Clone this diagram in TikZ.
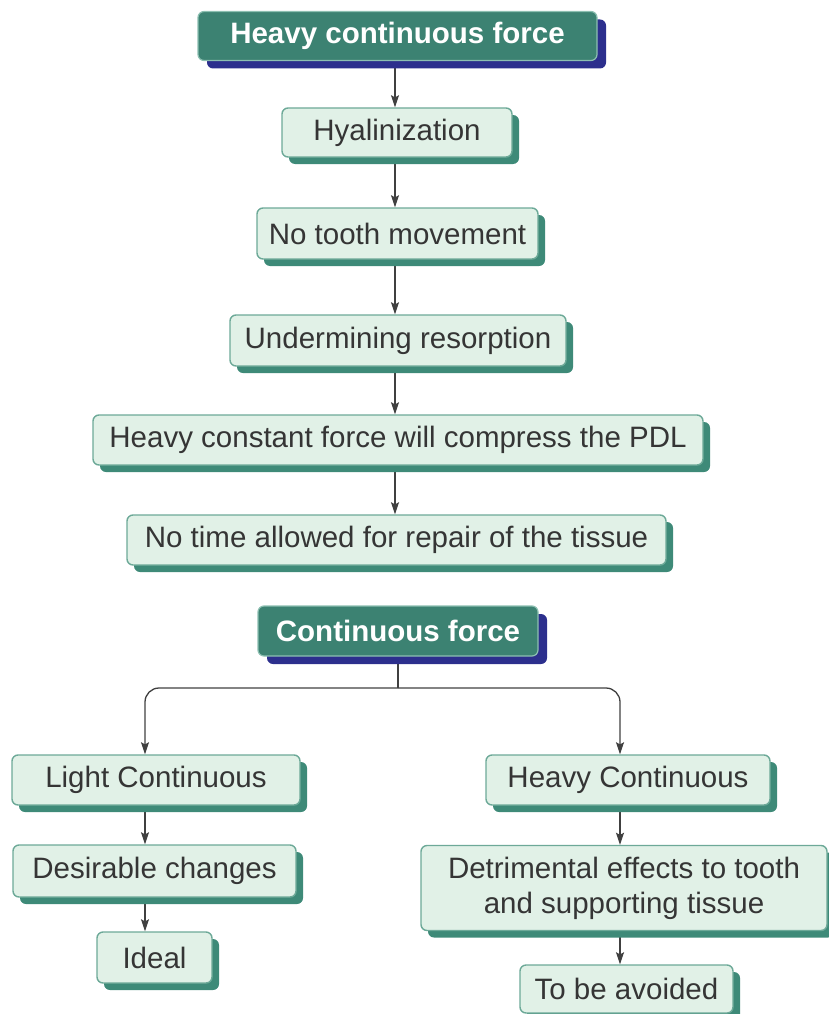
\documentclass[tikz,border=0pt]{standalone}
\usepackage{fontspec}
\setmainfont{Liberation Sans}
\usetikzlibrary{arrows.meta,shadows,backgrounds}
\definecolor{boxfill}{HTML}{E1F1E7}
\definecolor{boxline}{HTML}{6DA998}
\definecolor{boxshadow}{HTML}{3E8A78}
\definecolor{headfill}{HTML}{3C8272}
\definecolor{headline}{HTML}{8CBFB1}
\definecolor{headshadow}{HTML}{2C2F8D}
\definecolor{txt}{HTML}{353535}
\definecolor{arrowc}{HTML}{404040}
\begin{document}
\begin{tikzpicture}[x=1pt,y=1pt,
  lightbox/.style={draw=boxline, line width=1.4pt, fill=boxfill, rounded corners=6pt,
    text=txt, font=\fontsize{29.5}{35}\selectfont, inner sep=0pt, align=center,
    drop shadow={shadow xshift=7pt, shadow yshift=-7pt, fill=boxshadow, opacity=1}},
  headbox/.style={draw=headline, line width=1.2pt, fill=headfill, rounded corners=6pt,
    text=white, font=\fontsize{29.5}{35}\selectfont\bfseries, inner sep=0pt, align=center,
    drop shadow={shadow xshift=9pt, shadow yshift=-8pt, fill=headshadow, opacity=1}},
  arr/.style={draw=arrowc, line width=1.3pt, -{Stealth[length=12pt,width=8pt,inset=2pt]}},
  link/.style={draw=arrowc, line width=1.3pt}
]
\useasboundingbox (0,0) rectangle (829,-1014);

% top chain
\node[headbox, minimum width=399pt, minimum height=49pt] (h1) at (397.5,-36) {Heavy continuous force};
\node[lightbox, minimum width=230pt, minimum height=49pt] (hy) at (397,-132.5) {Hyalinization};
\node[lightbox, minimum width=281pt, minimum height=51pt] (nt) at (397.5,-233.5) {No tooth movement};
\node[lightbox, minimum width=336pt, minimum height=51pt] (ur) at (398,-340.5) {Undermining resorption};
\node[lightbox, minimum width=610pt, minimum height=50pt] (hc) at (398,-440) {Heavy constant force will compress the PDL};
\node[lightbox, minimum width=539pt, minimum height=50pt] (na) at (396.5,-540) {No time allowed for repair of the tissue};

% second chart
\node[headbox, minimum width=280pt, minimum height=50pt] (cf) at (398,-631) {Continuous force};
\node[lightbox, minimum width=288pt, minimum height=50pt] (lc) at (156,-780) {Light Continuous};
\node[lightbox, minimum width=283pt, minimum height=52pt] (dc) at (154.5,-871) {Desirable changes};
\node[lightbox, minimum width=115pt, minimum height=51pt] (id) at (154.5,-957.5) {Ideal};
\node[lightbox, minimum width=284pt, minimum height=50pt] (hv) at (628,-780) {Heavy Continuous};
\node[lightbox, minimum width=406pt, minimum height=85pt] (de) at (624,-888) {Detrimental effects to tooth\\and supporting tissue};
\node[lightbox, minimum width=213pt, minimum height=48pt] (tb) at (626.5,-989) {To be avoided};

\coordinate (cx) at (395,0);
\coordinate (lx) at (145,0);
\coordinate (rx) at (620,0);
\coordinate (j) at (398,-688);

\begin{pgfonlayer}{background}
\draw[arr] (cx |- h1.south) -- (cx |- hy.north);
\draw[arr] (cx |- hy.south) -- (cx |- nt.north);
\draw[arr] (cx |- nt.south) -- (cx |- ur.north);
\draw[arr] (cx |- ur.south) -- (cx |- hc.north);
\draw[arr] (cx |- hc.south) -- (cx |- na.north);
\draw[link] (cf.south) -- (j);
\draw[arr, rounded corners=14pt] (j) -| (lx |- lc.north);
\draw[arr, rounded corners=14pt] (j) -| (rx |- hv.north);
\draw[arr] (lx |- lc.south) -- (lx |- dc.north);
\draw[arr] (lx |- dc.south) -- (lx |- id.north);
\draw[arr] (rx |- hv.south) -- (rx |- de.north);
\draw[arr] (rx |- de.south) -- (rx |- tb.north);
\end{pgfonlayer}
\end{tikzpicture}
\end{document}
